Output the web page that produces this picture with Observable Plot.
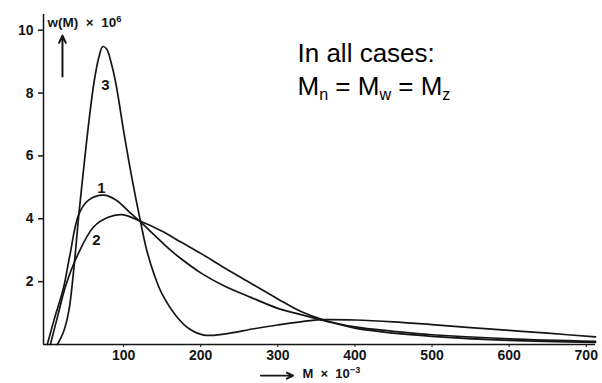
<!DOCTYPE html>
<html><head><meta charset="utf-8">
<script src="https://cdn.jsdelivr.net/npm/d3@7"></script>
<script src="https://cdn.jsdelivr.net/npm/@observablehq/plot@0.6"></script>
<style>
html,body{margin:0;padding:0;background:#fff;}
</style>
</head><body><div id="chart"></div>
<script>
// Curve 1
const M1 = [1, 10, 22, 30, 42, 55, 74, 90, 109, 122, 140, 160, 175, 200, 230, 265, 300, 330, 360, 400, 450, 500, 600, 712];
const W1 = [0, 0.8, 1.8, 2.8, 4.15, 4.6, 4.75, 4.6, 4.18, 3.9, 3.48, 3.02, 2.72, 2.28, 1.87, 1.5, 1.15, 0.95, 0.76, 0.52, 0.36, 0.26, 0.13, 0.07];
// Curve 2
const M2 = [5, 15, 25, 40, 61, 80, 98, 122, 150, 175, 200, 230, 265, 300, 330, 360, 400, 450, 500, 600, 712];
const W2 = [0, 0.95, 1.88, 2.83, 3.74, 4.05, 4.13, 3.92, 3.6, 3.25, 2.9, 2.45, 1.95, 1.45, 1.05, 0.78, 0.56, 0.42, 0.31, 0.18, 0.1];
// Curve 3
const M3 = [14, 22, 29, 35, 42, 48, 55, 62, 68, 73, 78, 84, 90, 100, 110, 122, 130, 140, 150, 170, 185, 204, 230, 269, 300, 342, 360, 400, 450, 500, 550, 600, 650, 712];
const W3 = [0, 0.4, 1.08, 2.3, 4.15, 5.55, 7.1, 8.4, 9.15, 9.48, 9.4, 8.95, 8.3, 6.8, 5.4, 3.9, 3.0, 2.2, 1.6, 0.85, 0.5, 0.3, 0.33, 0.5, 0.62, 0.76, 0.79, 0.78, 0.72, 0.63, 0.54, 0.45, 0.36, 0.24];

const xTicks = [100, 200, 300, 400, 500, 600, 700];
const yTicks = [2, 4, 6, 8, 10];

// Curve labels (data coordinates)
const curveLabels = ["1", "2", "3"];
const curveLabelM = [71.3, 64.8, 76.5];
const curveLabelW = [4.96, 3.31, 8.24];

// Note text
const noteLines = ["In all cases:", "M_{n} = M_{w} = M_{z}"];
const noteM = [325.5, 325.5];
const noteW = [9.0, 7.95];

// Axis titles
const yTitle = "w(M)\u00a0\u00a0×\u00a0\u00a010^{6}";
const yTitleM = 1.3, yTitleW = 10.09;
const xTitle = "M\u00a0\u00a0×\u00a0\u00a010^{−3}";
const xTitleM = 332, xTitleW = -1.08;
const upArrow = {x: 20.7, y1: 8.53, y2: 9.83};
const rightArrow = {x1: 278, x2: 320, y: -0.99};

const series = [
  ...M1.map((m, i) => ({M: m, w: W1[i], s: "1"})),
  ...M2.map((m, i) => ({M: m, w: W2[i], s: "2"})),
  ...M3.map((m, i) => ({M: m, w: W3[i], s: "3"}))
];

const ink = "#151515";
const plot = Plot.plot({
  width: 602,
  height: 383,
  marginLeft: 46,
  marginRight: 7,
  marginTop: 14,
  marginBottom: 39,
  style: {fontFamily: "'Liberation Sans', Arial, sans-serif", background: "#fff", color: ink},
  x: {domain: [0, 712], axis: null},
  y: {domain: [0, 10.5], axis: null},
  marks: [
    Plot.ruleY([0], {x1: -4, x2: 712, stroke: ink, strokeWidth: 1.5}),
    Plot.ruleX([0], {dx: -3, stroke: ink, strokeWidth: 1.5}),
    Plot.axisX({ticks: xTicks, tickSize: 3, tickPadding: 3, fontSize: 14, fontWeight: "bold", stroke: ink}),
    Plot.axisY({ticks: yTicks, tickSize: 5, tickPadding: 5, dx: -3, fontSize: 14, fontWeight: "bold", stroke: ink, strokeWidth: 1.5}),
    Plot.line(series, {x: "M", y: "w", z: "s", curve: "catmull-rom", stroke: ink, strokeWidth: 1.7}),
    Plot.text(curveLabels, {x: (d, i) => curveLabelM[i], y: (d, i) => curveLabelW[i], text: d => d, fontSize: 15, fontWeight: "bold", fill: ink}),
    Plot.text(noteLines, {x: (d, i) => noteM[i], y: (d, i) => noteW[i], text: d => d, textAnchor: "start", lineAnchor: "bottom", fontSize: 26, fill: "#000"}),
    Plot.text([yTitle], {x: [yTitleM], y: [yTitleW], text: d => d, textAnchor: "start", lineAnchor: "bottom", fontSize: 13.5, fontWeight: "bold", fill: ink, ariaLabel: "ytitle"}),
    Plot.text([xTitle], {x: [xTitleM], y: [xTitleW], text: d => d, textAnchor: "start", lineAnchor: "bottom", fontSize: 13, fontWeight: "bold", fill: ink, ariaLabel: "xtitle"}),
    Plot.arrow([upArrow], {x: "x", y1: "y1", y2: "y2", stroke: ink, strokeWidth: 2, headLength: 6, headAngle: 50}),
    Plot.arrow([rightArrow], {x1: "x1", x2: "x2", y: "y", stroke: ink, strokeWidth: 1.8, headLength: 6, headAngle: 50})
  ]
});

// Rich text: sub/superscripts as tspans
d3.select(plot).selectAll("text").each(function() {
  const s = this.textContent;
  if (!/[_^]\{/.test(s)) return;
  const g = this.closest("g[font-size]");
  const base = g ? +g.getAttribute("font-size") : 12;
  const parts = s.split(/([_^]\{[^}]*\})/).filter(p => p);
  this.textContent = "";
  let shift = 0;
  for (const p of parts) {
    const ts = document.createElementNS("http://www.w3.org/2000/svg", "tspan");
    let target = 0, txt = p;
    if (p[0] === "_") { target = base * 0.2; txt = p.slice(2, -1); ts.setAttribute("font-size", base * 0.62); }
    else if (p[0] === "^") { target = -base * 0.4; txt = p.slice(2, -1); ts.setAttribute("font-size", base * 0.7); }
    if (target - shift !== 0) ts.setAttribute("dy", target - shift);
    shift = target;
    ts.textContent = txt;
    this.appendChild(ts);
  }
});
d3.select(plot).selectAll('g[aria-label="ytitle"], g[aria-label="xtitle"]').style("letter-spacing", "0.6px");

document.getElementById("chart").appendChild(plot);
</script></body></html>
